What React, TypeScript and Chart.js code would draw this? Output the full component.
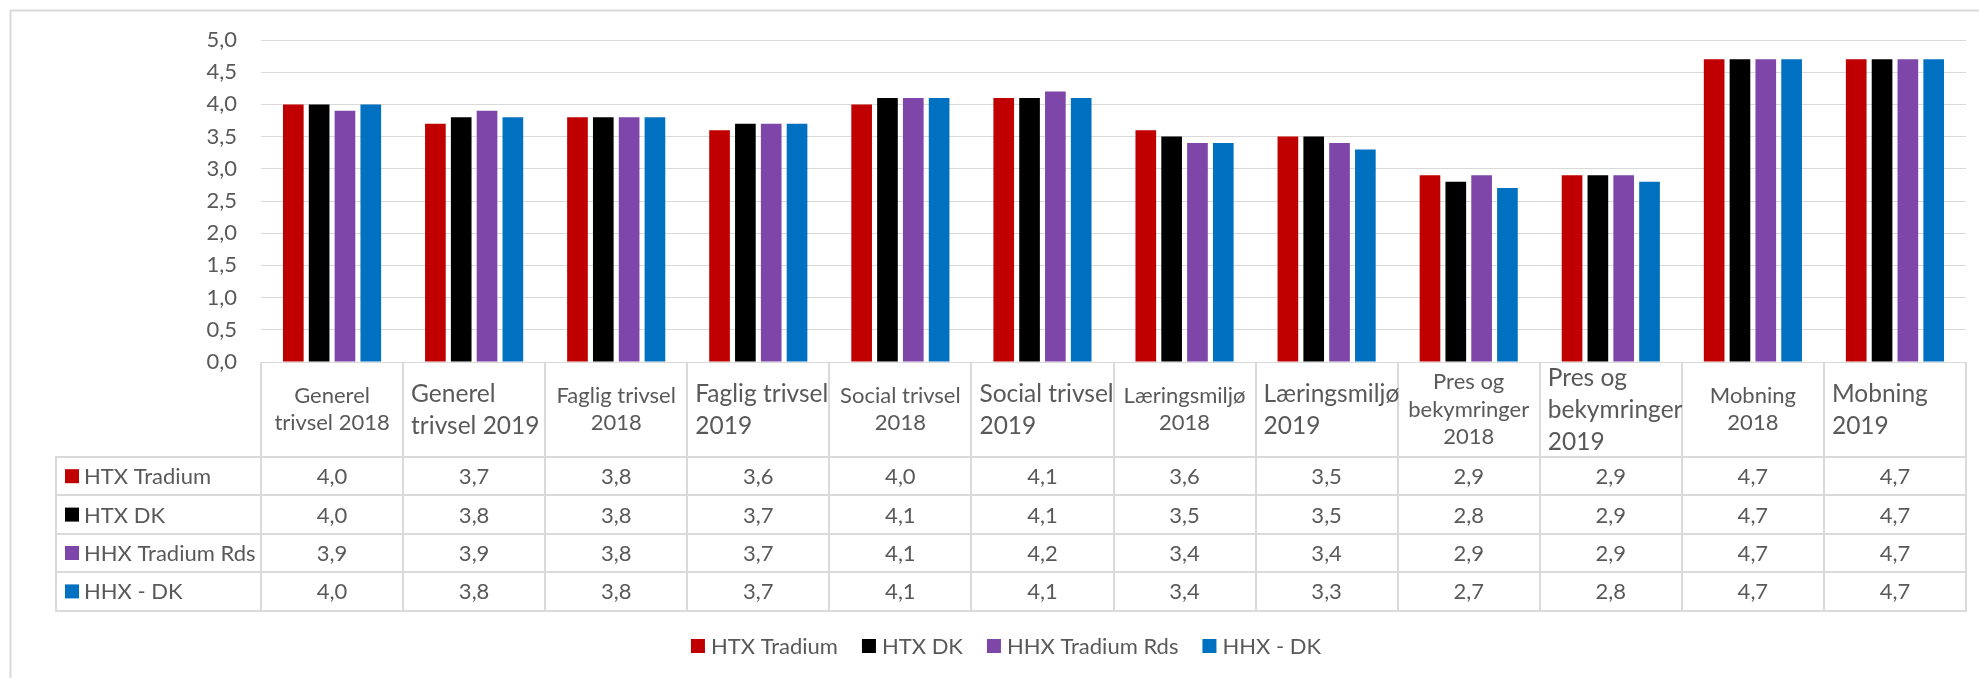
import React, { useEffect, useRef } from "react";
import { Chart, registerables } from "chart.js";

Chart.register(...registerables);

const categories: string[][] = [
  ["Generel", "trivsel 2018"],
  ["Generel", "trivsel 2019"],
  ["Faglig trivsel", "2018"],
  ["Faglig trivsel", "2019"],
  ["Social trivsel", "2018"],
  ["Social trivsel", "2019"],
  ["Læringsmiljø", "2018"],
  ["Læringsmiljø", "2019"],
  ["Pres og", "bekymringer", "2018"],
  ["Pres og", "bekymringer", "2019"],
  ["Mobning", "2018"],
  ["Mobning", "2019"],
];

const seriesNames = ["HTX Tradium", "HTX DK", "HHX Tradium Rds", "HHX - DK"];
const seriesColors = ["#C00000", "#000000", "#7E46A9", "#0070C0"];

const htxTradium = [4.0, 3.7, 3.8, 3.6, 4.0, 4.1, 3.6, 3.5, 2.9, 2.9, 4.7, 4.7];
const htxDK = [4.0, 3.8, 3.8, 3.7, 4.1, 4.1, 3.5, 3.5, 2.8, 2.9, 4.7, 4.7];
const hhxTradiumRds = [3.9, 3.9, 3.8, 3.7, 4.1, 4.2, 3.4, 3.4, 2.9, 2.9, 4.7, 4.7];
const hhxDK = [4.0, 3.8, 3.8, 3.7, 4.1, 4.1, 3.4, 3.3, 2.7, 2.8, 4.7, 4.7];

const seriesValues = [htxTradium, htxDK, hhxTradiumRds, hhxDK];

const FONT = "Lato";
const TEXT = "#595959";
const LINE = "#D9D9D9";

const fmt = (v: number) => v.toFixed(1).replace(".", ",");

const tablePlugin = {
  id: "dataTable",
  afterDraw(chart: any) {
    const ctx: CanvasRenderingContext2D = chart.ctx;
    const xs = chart.scales.x;
    const area = chart.chartArea;
    const n = categories.length;
    const cw = (area.right - area.left) / n;
    const headTop = area.bottom;
    const headBottom = 457;
    const rowH = 38.4;
    const tableLeft = 56;
    const tableBottom = headBottom + rowH * seriesNames.length;

    ctx.save();
    // outer chart border
    ctx.strokeStyle = LINE;
    ctx.lineWidth = 2;
    ctx.beginPath();
    ctx.moveTo(10.5, 700);
    ctx.lineTo(10.5, 10.5);
    ctx.lineTo(1990, 10.5);
    ctx.stroke();

    // table grid lines
    ctx.lineWidth = 2;
    ctx.strokeStyle = "#DADADA";
    ctx.beginPath();
    for (let i = 0; i <= n; i++) {
      const x = Math.round(area.left + i * cw);
      ctx.moveTo(x, headTop);
      ctx.lineTo(x, tableBottom);
    }
    ctx.moveTo(tableLeft, headBottom);
    ctx.lineTo(tableLeft, tableBottom);
    for (let r = 0; r <= seriesNames.length; r++) {
      const y = Math.round(headBottom + r * rowH);
      ctx.moveTo(tableLeft - 1, y);
      ctx.lineTo(area.right + 1, y);
    }
    ctx.stroke();

    // header labels
    ctx.fillStyle = TEXT;
    ctx.textBaseline = "middle";
    for (let i = 0; i < n; i++) {
      const lines = categories[i];
      const cx = xs.getPixelForValue(i);
      const left = cx - cw / 2;
      const late = i % 2 === 1;
      const size = late ? 24.5 : 22;
      const lh = late ? 32 : 27.5;
      const mid = late ? 410.5 : 409.5;
      ctx.font = `${size}px ${FONT}`;
      ctx.textAlign = late ? "left" : "center";
      const x0 = late ? left + 8 : cx;
      lines.forEach((t, k) => {
        const y = mid + (k - (lines.length - 1) / 2) * lh;
        ctx.fillText(t, x0, y);
      });
    }

    // rows
    ctx.font = `22px ${FONT}`;
    for (let r = 0; r < seriesNames.length; r++) {
      const yc = headBottom + r * rowH + rowH / 2;
      ctx.fillStyle = seriesColors[r];
      ctx.fillRect(65, yc - 7, 14, 14);
      ctx.fillStyle = TEXT;
      ctx.textAlign = "left";
      ctx.fillText(seriesNames[r], 84, yc + 1);
      ctx.textAlign = "center";
      for (let i = 0; i < n; i++) {
        ctx.fillText(fmt(seriesValues[r][i]), xs.getPixelForValue(i), yc + 1);
      }
    }

    // legend
    ctx.font = `22px ${FONT}`;
    ctx.textAlign = "left";
    const widths = seriesNames.map((s) => ctx.measureText(s).width);
    const gapBox = 6;
    const gapItem = 24;
    const total = widths.reduce((a, w) => a + 14 + gapBox + w, 0) + gapItem * (seriesNames.length - 1);
    let lx = 1006 - total / 2;
    const ly = 646;
    for (let r = 0; r < seriesNames.length; r++) {
      ctx.fillStyle = seriesColors[r];
      ctx.fillRect(lx, ly - 7, 14, 14);
      ctx.fillStyle = TEXT;
      ctx.fillText(seriesNames[r], lx + 14 + gapBox, ly + 1);
      lx += 14 + gapBox + widths[r] + gapItem;
    }
    ctx.restore();
  },
};

export default function App() {
  const ref = useRef<HTMLCanvasElement | null>(null);

  useEffect(() => {
    if (!ref.current) return;
    const chart = new Chart(ref.current, {
      type: "bar",
      data: {
        labels: categories,
        datasets: seriesNames.map((name, k) => ({
          label: name,
          data: seriesValues[k],
          backgroundColor: seriesColors[k],
          borderWidth: 0,
          categoryPercentage: 0.727,
          barPercentage: 0.8,
        })),
      },
      options: {
        responsive: false,
        animation: false,
        devicePixelRatio: 1,
        layout: { padding: { left: 0, top: 40, right: 13, bottom: 316 } },
        plugins: {
          legend: { display: false },
          tooltip: { enabled: false },
          title: { display: false },
        },
        scales: {
          x: {
            display: false,
          },
          y: {
            min: 0,
            max: 5,
            afterFit: (s: any) => {
              s.width = 261;
            },
            ticks: {
              stepSize: 0.5,
              padding: 24,
              color: TEXT,
              font: { family: FONT, size: 22 },
              callback: (v: any) => fmt(Number(v)),
            },
            grid: { color: LINE, lineWidth: 1, drawTicks: false },
            border: { display: false },
          },
        },
      },
      plugins: [tablePlugin],
    });
    return () => chart.destroy();
  }, []);

  return (
    <div style={{ position: "fixed", left: 0, top: 0, width: 1979, height: 678, background: "#fff" }}>
      <canvas ref={ref} width={1979} height={678} style={{ width: 1979, height: 678 }} />
    </div>
  );
}
